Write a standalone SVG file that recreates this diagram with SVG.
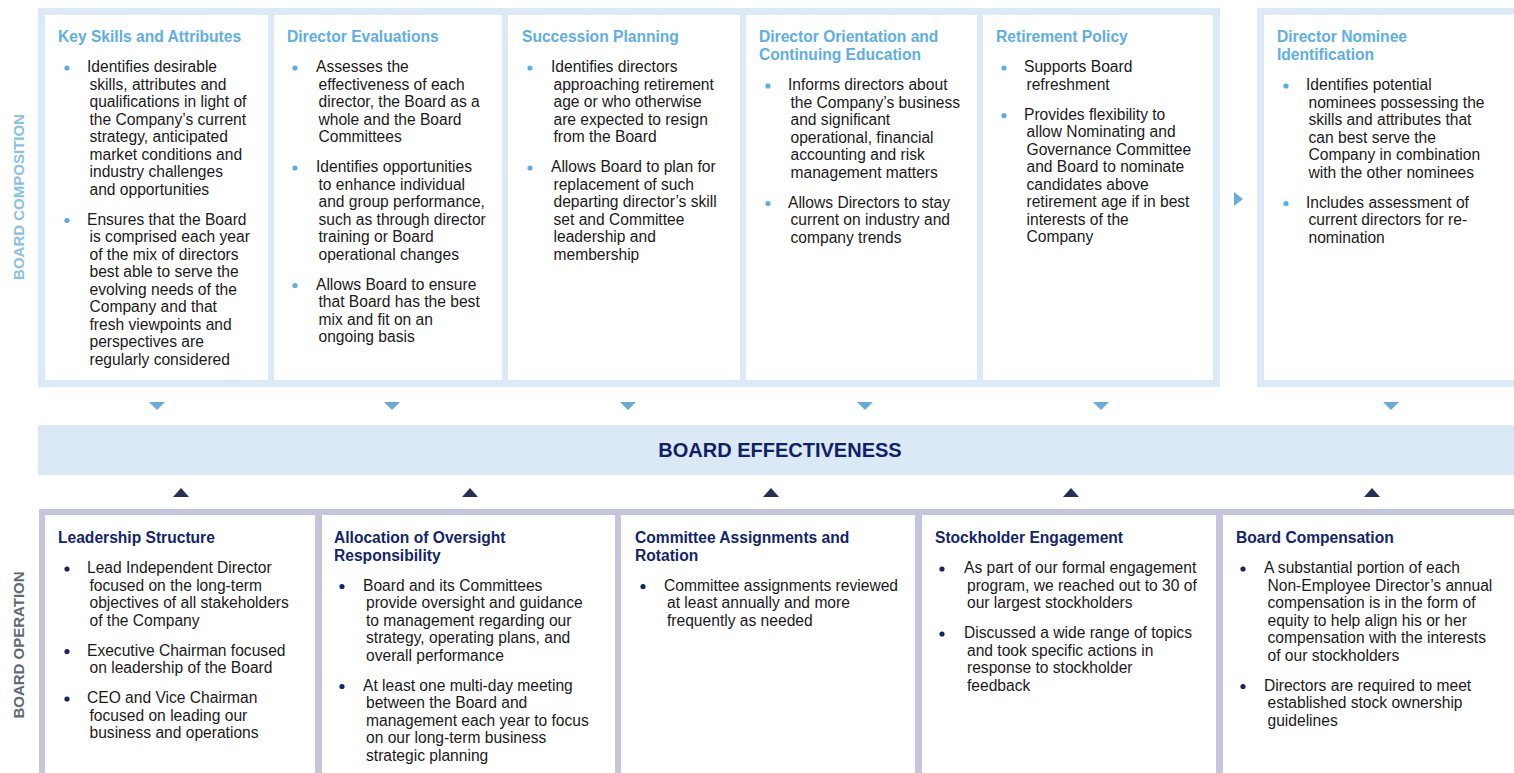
<svg xmlns="http://www.w3.org/2000/svg" width="1514" height="773" viewBox="0 0 1514 773">
<style>
text{font-family:"Liberation Sans",Arial,sans-serif;}
.t1{font-size:15.6px;font-weight:bold;fill:#5eaee6;}
.t2{font-size:15.6px;font-weight:bold;fill:#13256b;}
.b{font-size:15.6px;fill:#1a1a1a;}
.d1{fill:#5aaee6;}
.d2{fill:#13256b;}
.frameTop{fill:#dceaf7;}
.frameBot{fill:#c5c6dd;}
.panel{fill:#ffffff;}
.band{fill:#dbe9f6;}
.down{fill:#6aaad8;}
.up{fill:#2b2f55;}
.side1{font-size:15px;font-weight:bold;fill:#8cc0e6;}
.side2{font-size:15px;font-weight:bold;fill:#5f6a74;}
.be{font-size:20px;font-weight:bold;fill:#0f2167;}
</style>

<!-- frames -->
<rect class="frameTop" x="38" y="8" width="1182" height="379"/>
<rect class="frameTop" x="1257" y="8" width="257" height="379"/>
<rect class="frameBot" x="39" y="509" width="1475" height="264"/>
<rect id="board-effectiveness" class="band" x="38" y="425" width="1476" height="50"/>
<text class="be" x="780" y="457" text-anchor="middle">BOARD EFFECTIVENESS</text>

<text class="side1" transform="translate(24,197) rotate(-90)" text-anchor="middle">BOARD COMPOSITION</text>
<text class="side2" transform="translate(24,645) rotate(-90)" text-anchor="middle">BOARD OPERATION</text>

<!-- top panels -->
<g id="key-skills">
<rect class="panel" x="45" y="15" width="223" height="365"/>
<text class="t1" x="58" y="42">Key Skills and Attributes</text>
<circle class="d1" cx="67" cy="68" r="2.6"/>
<circle class="d1" cx="67" cy="220.5" r="2.6"/>
<text class="b"><tspan x="87" y="72">Identifies desirable</tspan><tspan x="89.5" y="89.5">skills, attributes and</tspan><tspan x="89.5" y="107">qualifications in light of</tspan><tspan x="89.5" y="124.5">the Company’s current</tspan><tspan x="89.5" y="142">strategy, anticipated</tspan><tspan x="89.5" y="159.5">market conditions and</tspan><tspan x="89.5" y="177">industry challenges</tspan><tspan x="89.5" y="194.5">and opportunities</tspan></text>
<text class="b"><tspan x="87" y="224.5">Ensures that the Board</tspan><tspan x="89.5" y="242">is comprised each year</tspan><tspan x="89.5" y="259.5">of the mix of directors</tspan><tspan x="89.5" y="277">best able to serve the</tspan><tspan x="89.5" y="294.5">evolving needs of the</tspan><tspan x="89.5" y="312">Company and that</tspan><tspan x="89.5" y="329.5">fresh viewpoints and</tspan><tspan x="89.5" y="347">perspectives are</tspan><tspan x="89.5" y="364.5">regularly considered</tspan></text>
</g>

<g id="director-evaluations">
<rect class="panel" x="274" y="15" width="228" height="365"/>
<text class="t1" x="287" y="42">Director Evaluations</text>
<circle class="d1" cx="295" cy="68" r="2.6"/>
<circle class="d1" cx="295" cy="168" r="2.6"/>
<circle class="d1" cx="295" cy="285.5" r="2.6"/>
<text class="b"><tspan x="316" y="72">Assesses the</tspan><tspan x="318.5" y="89.5">effectiveness of each</tspan><tspan x="318.5" y="107">director, the Board as a</tspan><tspan x="318.5" y="124.5">whole and the Board</tspan><tspan x="318.5" y="142">Committees</tspan></text>
<text class="b"><tspan x="316" y="172">Identifies opportunities</tspan><tspan x="318.5" y="189.5">to enhance individual</tspan><tspan x="318.5" y="207">and group performance,</tspan><tspan x="318.5" y="224.5">such as through director</tspan><tspan x="318.5" y="242">training or Board</tspan><tspan x="318.5" y="259.5">operational changes</tspan></text>
<text class="b"><tspan x="316" y="289.5">Allows Board to ensure</tspan><tspan x="318.5" y="307">that Board has the best</tspan><tspan x="318.5" y="324.5">mix and fit on an</tspan><tspan x="318.5" y="342">ongoing basis</tspan></text>
</g>

<g id="succession-planning">
<rect class="panel" x="508" y="15" width="232" height="365"/>
<text class="t1" x="522" y="42">Succession Planning</text>
<circle class="d1" cx="530" cy="68" r="2.6"/>
<circle class="d1" cx="530" cy="168" r="2.6"/>
<text class="b"><tspan x="551" y="72">Identifies directors</tspan><tspan x="553.5" y="89.5">approaching retirement</tspan><tspan x="553.5" y="107">age or who otherwise</tspan><tspan x="553.5" y="124.5">are expected to resign</tspan><tspan x="553.5" y="142">from the Board</tspan></text>
<text class="b"><tspan x="551" y="172">Allows Board to plan for</tspan><tspan x="553.5" y="189.5">replacement of such</tspan><tspan x="553.5" y="207">departing director’s skill</tspan><tspan x="553.5" y="224.5">set and Committee</tspan><tspan x="553.5" y="242">leadership and</tspan><tspan x="553.5" y="259.5">membership</tspan></text>
</g>

<g id="director-orientation">
<rect class="panel" x="746" y="15" width="231" height="365"/>
<text class="t1"><tspan x="759" y="42">Director Orientation and</tspan><tspan x="759" y="59.5">Continuing Education</tspan></text>
<circle class="d1" cx="768" cy="86" r="2.6"/>
<circle class="d1" cx="768" cy="203.5" r="2.6"/>
<text class="b"><tspan x="788" y="90">Informs directors about</tspan><tspan x="790.5" y="107.5">the Company’s business</tspan><tspan x="790.5" y="125">and significant</tspan><tspan x="790.5" y="142.5">operational, financial</tspan><tspan x="790.5" y="160">accounting and risk</tspan><tspan x="790.5" y="177.5">management matters</tspan></text>
<text class="b"><tspan x="788" y="207.5">Allows Directors to stay</tspan><tspan x="790.5" y="225">current on industry and</tspan><tspan x="790.5" y="242.5">company trends</tspan></text>
</g>

<g id="retirement-policy">
<rect class="panel" x="983" y="15" width="230" height="365"/>
<text class="t1" x="996" y="42">Retirement Policy</text>
<circle class="d1" cx="1004" cy="68" r="2.6"/>
<circle class="d1" cx="1004" cy="115.5" r="2.6"/>
<text class="b"><tspan x="1024" y="72">Supports Board</tspan><tspan x="1026.5" y="89.5">refreshment</tspan></text>
<text class="b"><tspan x="1024" y="119.5">Provides flexibility to</tspan><tspan x="1026.5" y="137">allow Nominating and</tspan><tspan x="1026.5" y="154.5">Governance Committee</tspan><tspan x="1026.5" y="172">and Board to nominate</tspan><tspan x="1026.5" y="189.5">candidates above</tspan><tspan x="1026.5" y="207">retirement age if in best</tspan><tspan x="1026.5" y="224.5">interests of the</tspan><tspan x="1026.5" y="242">Company</tspan></text>
</g>

<g id="director-nominee">
<rect class="panel" x="1264" y="15" width="250" height="365"/>
<text class="t1"><tspan x="1277" y="42">Director Nominee</tspan><tspan x="1277" y="59.5">Identification</tspan></text>
<circle class="d1" cx="1286" cy="86" r="2.6"/>
<circle class="d1" cx="1286" cy="203.5" r="2.6"/>
<text class="b"><tspan x="1306" y="90">Identifies potential</tspan><tspan x="1308.5" y="107.5">nominees possessing the</tspan><tspan x="1308.5" y="125">skills and attributes that</tspan><tspan x="1308.5" y="142.5">can best serve the</tspan><tspan x="1308.5" y="160">Company in combination</tspan><tspan x="1308.5" y="177.5">with the other nominees</tspan></text>
<text class="b"><tspan x="1306" y="207.5">Includes assessment of</tspan><tspan x="1308.5" y="225">current directors for re-</tspan><tspan x="1308.5" y="242.5">nomination</tspan></text>
</g>

<!-- bottom panels -->
<g id="leadership-structure">
<rect class="panel" x="45" y="515" width="270" height="258"/>
<text class="t2" x="58" y="543">Leadership Structure</text>
<circle class="d2" cx="67" cy="569" r="2.6"/>
<circle class="d2" cx="67" cy="651.5" r="2.6"/>
<circle class="d2" cx="67" cy="699" r="2.6"/>
<text class="b"><tspan x="87" y="573">Lead Independent Director</tspan><tspan x="89.5" y="590.5">focused on the long-term</tspan><tspan x="89.5" y="608">objectives of all stakeholders</tspan><tspan x="89.5" y="625.5">of the Company</tspan></text>
<text class="b"><tspan x="87" y="655.5">Executive Chairman focused</tspan><tspan x="89.5" y="673">on leadership of the Board</tspan></text>
<text class="b"><tspan x="87" y="703">CEO and Vice Chairman</tspan><tspan x="89.5" y="720.5">focused on leading our</tspan><tspan x="89.5" y="738">business and operations</tspan></text>
</g>

<g id="allocation-of-oversight">
<rect class="panel" x="322" y="515" width="293" height="258"/>
<text class="t2"><tspan x="334" y="543">Allocation of Oversight</tspan><tspan x="334" y="560.5">Responsibility</tspan></text>
<circle class="d2" cx="342" cy="586.5" r="2.6"/>
<circle class="d2" cx="342" cy="686.5" r="2.6"/>
<text class="b"><tspan x="363" y="590.5">Board and its Committees</tspan><tspan x="366" y="608">provide oversight and guidance</tspan><tspan x="366" y="625.5">to management regarding our</tspan><tspan x="366" y="643">strategy, operating plans, and</tspan><tspan x="366" y="660.5">overall performance</tspan></text>
<text class="b"><tspan x="363" y="690.5">At least one multi-day meeting</tspan><tspan x="366" y="708">between the Board and</tspan><tspan x="366" y="725.5">management each year to focus</tspan><tspan x="366" y="743">on our long-term business</tspan><tspan x="366" y="760.5">strategic planning</tspan></text>
</g>

<g id="committee-assignments">
<rect class="panel" x="621" y="515" width="294" height="258"/>
<text class="t2"><tspan x="635" y="543">Committee Assignments and</tspan><tspan x="635" y="560.5">Rotation</tspan></text>
<circle class="d2" cx="643" cy="586.5" r="2.6"/>
<text class="b"><tspan x="664" y="590.5">Committee assignments reviewed</tspan><tspan x="667" y="608">at least annually and more</tspan><tspan x="667" y="625.5">frequently as needed</tspan></text>
</g>

<g id="stockholder-engagement">
<rect class="panel" x="922" y="515" width="294" height="258"/>
<text class="t2" x="935" y="543">Stockholder Engagement</text>
<circle class="d2" cx="942" cy="569" r="2.6"/>
<circle class="d2" cx="942" cy="634" r="2.6"/>
<text class="b"><tspan x="964" y="573">As part of our formal engagement</tspan><tspan x="967" y="590.5">program, we reached out to 30 of</tspan><tspan x="967" y="608">our largest stockholders</tspan></text>
<text class="b"><tspan x="964" y="638">Discussed a wide range of topics</tspan><tspan x="967" y="655.5">and took specific actions in</tspan><tspan x="967" y="673">response to stockholder</tspan><tspan x="967" y="690.5">feedback</tspan></text>
</g>

<g id="board-compensation">
<rect class="panel" x="1223" y="515" width="291" height="258"/>
<text class="t2" x="1236" y="543">Board Compensation</text>
<circle class="d2" cx="1243" cy="569" r="2.6"/>
<circle class="d2" cx="1243" cy="686.5" r="2.6"/>
<text class="b"><tspan x="1264" y="573">A substantial portion of each</tspan><tspan x="1267.5" y="590.5">Non-Employee Director’s annual</tspan><tspan x="1267.5" y="608">compensation is in the form of</tspan><tspan x="1267.5" y="625.5">equity to help align his or her</tspan><tspan x="1267.5" y="643">compensation with the interests</tspan><tspan x="1267.5" y="660.5">of our stockholders</tspan></text>
<text class="b"><tspan x="1264" y="690.5">Directors are required to meet</tspan><tspan x="1267.5" y="708">established stock ownership</tspan><tspan x="1267.5" y="725.5">guidelines</tspan></text>
</g>

<!-- connectors -->
<g id="connectors">
<polygon class="down" points="149,402 165,402 157,410"/>
<polygon class="down" points="384,402 400,402 392,410"/>
<polygon class="down" points="620,402 636,402 628,410"/>
<polygon class="down" points="857,402 873,402 865,410"/>
<polygon class="down" points="1093,402 1109,402 1101,410"/>
<polygon class="down" points="1383,402 1399,402 1391,410"/>
<polygon class="up" points="173,497 189,497 181,488"/>
<polygon class="up" points="462,497 478,497 470,488"/>
<polygon class="up" points="763,497 779,497 771,488"/>
<polygon class="up" points="1063,497 1079,497 1071,488"/>
<polygon class="up" points="1364,497 1380,497 1372,488"/>
<polygon class="down" points="1234,192 1243,199 1234,206"/>
</g>
</svg>
